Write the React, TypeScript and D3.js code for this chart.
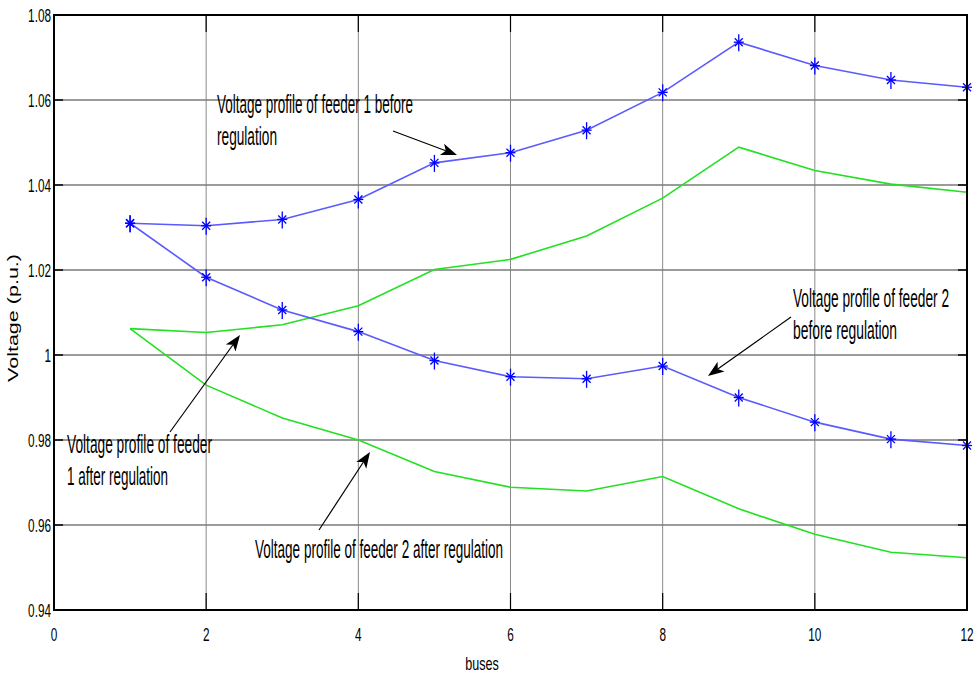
import React, { useLayoutEffect, useRef, useState } from "react";
import * as d3 from "d3";

const buses = [1, 2, 3, 4, 5, 6, 7, 8, 9, 10, 11, 12];
const feeder1Before = [1.031, 1.0304, 1.0319, 1.0366, 1.0452, 1.0476, 1.0529, 1.0618, 1.0736, 1.0681, 1.0647, 1.063];
const feeder2Before = [1.031, 1.0183, 1.0106, 1.0055, 0.9987, 0.9949, 0.9944, 0.9974, 0.99, 0.9842, 0.9802, 0.9787];
const feeder1After = [1.0062, 1.0053, 1.0071, 1.0116, 1.0201, 1.0225, 1.028, 1.0369, 1.0489, 1.0434, 1.0402, 1.0383];
const feeder2After = [1.0062, 0.9929, 0.9852, 0.98, 0.9726, 0.9689, 0.968, 0.9714, 0.9638, 0.9578, 0.9536, 0.9523];
const xTicks = [0, 2, 4, 6, 8, 10, 12];
const yTicks = [0.94, 0.96, 0.98, 1, 1.02, 1.04, 1.06, 1.08];
const yTickLabels = ["0.94", "0.96", "0.98", "1", "1.02", "1.04", "1.06", "1.08"];

const annotations = [
  { lines: ["Voltage profile of feeder 1 before", "regulation"], widths: [196, 60], x: 217, y: 113, from: [393, 131], to: [457, 155] },
  { lines: ["Voltage profile of feeder 2", "before regulation"], widths: [156, 104], x: 793, y: 307, from: [791, 317], to: [708, 376] },
  { lines: ["Voltage profile of feeder", "1 after regulation"], widths: [145, 101], x: 67, y: 453, from: [170, 432], to: [240, 335] },
  { lines: ["Voltage profile of feeder 2 after regulation"], widths: [248], x: 255, y: 558, from: [319, 530], to: [370, 452] },
];

const L = 54, R = 967, T = 15, B = 610;
const font = "'Liberation Sans', Arial, sans-serif";

function FitText({ x, y, width, size, children }: { x: number; y: number; width: number; size: number; children: string }) {
  const ref = useRef<SVGTextElement>(null);
  const [sx, setSx] = useState(0.55);
  useLayoutEffect(() => {
    if (ref.current) {
      const w = ref.current.getComputedTextLength();
      if (w > 0) setSx(width / w);
    }
  }, [width, children]);
  return (
    <g transform={`translate(${x},${y}) scale(${sx},1)`}>
      <text ref={ref} x={0} y={0} fontFamily={font} fontSize={size} fill="#000">{children}</text>
    </g>
  );
}

function Star({ cx, cy }: { cx: number; cy: number }) {
  return (
    <g stroke="#0000ff" strokeWidth={1.3} fill="none">
      <line x1={cx} y1={cy - 8} x2={cx} y2={cy + 9} />
      <line x1={cx - 5} y1={cy} x2={cx + 5} y2={cy} />
      <line x1={cx - 4} y1={cy - 4} x2={cx + 4} y2={cy + 4} />
      <line x1={cx - 4} y1={cy + 4} x2={cx + 4} y2={cy - 4} />
    </g>
  );
}

function Arrow({ from, to }: { from: number[]; to: number[] }) {
  const dx = to[0] - from[0], dy = to[1] - from[1];
  const len = Math.hypot(dx, dy);
  const ux = dx / len, uy = dy / len;
  const hl = 16, hw = 6;
  const bx = to[0] - ux * hl, by = to[1] - uy * hl;
  const px = -uy, py = ux;
  const pts = `${to[0]},${to[1]} ${bx + px * hw},${by + py * hw} ${bx + ux * 4},${by + uy * 4} ${bx - px * hw},${by - py * hw}`;
  return (
    <g>
      <line x1={from[0]} y1={from[1]} x2={bx + ux * 4} y2={by + uy * 4} stroke="#000" strokeWidth={1.2} />
      <polygon points={pts} fill="#000" />
    </g>
  );
}

export default function App() {
  const x = d3.scaleLinear().domain([0, 12]).range([L, R]);
  const y = d3.scaleLinear().domain([0.94, 1.08]).range([B, T]);
  const line = d3.line<number>().x((_, i) => x(buses[i])).y((d) => y(d));

  return (
    <svg width={975} height={677} style={{ position: "absolute", left: 0, top: 0, background: "#fff" }}>
      <rect x={0} y={0} width={975} height={677} fill="#fff" />
      {/* grid */}
      {xTicks.slice(1, -1).map((t) => (
        <line key={"gx" + t} x1={x(t)} x2={x(t)} y1={T} y2={B} stroke="#8a8a8a" strokeWidth={1} />
      ))}
      {yTicks.slice(1, -1).map((t) => (
        <line key={"gy" + t} x1={L} x2={R} y1={y(t)} y2={y(t)} stroke="#7a7a7a" strokeWidth={1.5} />
      ))}
      {/* lines */}
      <path d={line(feeder1After) || ""} fill="none" stroke="#22e022" strokeWidth={1.6} />
      <path d={line(feeder2After) || ""} fill="none" stroke="#22e022" strokeWidth={1.6} />
      <path d={line(feeder1Before) || ""} fill="none" stroke="#5a5aff" strokeWidth={1.6} />
      <path d={line(feeder2Before) || ""} fill="none" stroke="#5a5aff" strokeWidth={1.6} />
      {feeder1Before.map((v, i) => <Star key={"a" + i} cx={x(buses[i])} cy={y(v)} />)}
      {feeder2Before.map((v, i) => <Star key={"b" + i} cx={x(buses[i])} cy={y(v)} />)}
      {/* axes box */}
      <rect x={L} y={T} width={R - L} height={B - T} fill="none" stroke="#000" strokeWidth={2} />
      {/* ticks */}
      {xTicks.map((t) => (
        <g key={"tx" + t}>
          <line x1={x(t)} x2={x(t)} y1={B} y2={B - 17} stroke="#000" strokeWidth={1.2} />
          <line x1={x(t)} x2={x(t)} y1={T} y2={T + 17} stroke="#000" strokeWidth={1.2} />
        </g>
      ))}
      {yTicks.map((t) => (
        <g key={"ty" + t}>
          <line x1={L} x2={L + 9} y1={y(t)} y2={y(t)} stroke="#000" strokeWidth={1.5} />
          <line x1={R} x2={R - 9} y1={y(t)} y2={y(t)} stroke="#000" strokeWidth={1.5} />
        </g>
      ))}
      {/* tick labels */}
      {yTicks.map((t, i) => (
        <g key={"ly" + t} transform={`translate(${L - 3},${y(t) + 7}) scale(0.62,1)`}>
          <text textAnchor="end" fontFamily={font} fontSize={19} fill="#000">{yTickLabels[i]}</text>
        </g>
      ))}
      {xTicks.map((t) => (
        <g key={"lx" + t} transform={`translate(${x(t)},${641}) scale(0.62,1)`}>
          <text textAnchor="middle" fontFamily={font} fontSize={19} fill="#000">{t}</text>
        </g>
      ))}
      {/* axis labels */}
      <text transform={`translate(18,318) rotate(-90)`} textAnchor="middle" fontFamily={font} fontSize={14} fill="#000" textLength={128} lengthAdjust="spacingAndGlyphs">Voltage (p.u.)</text>
      <g transform={`translate(482,670) scale(0.7,1)`}>
        <text textAnchor="middle" fontFamily={font} fontSize={18} fill="#000">buses</text>
      </g>
      {/* annotations */}
      {annotations.map((a, k) => (
        <g key={"an" + k}>
          {a.lines.map((s, j) => (
            <FitText key={j} x={a.x} y={a.y + j * 32} width={a.widths[j]} size={25}>{s}</FitText>
          ))}
          <Arrow from={a.from} to={a.to} />
        </g>
      ))}
    </svg>
  );
}
